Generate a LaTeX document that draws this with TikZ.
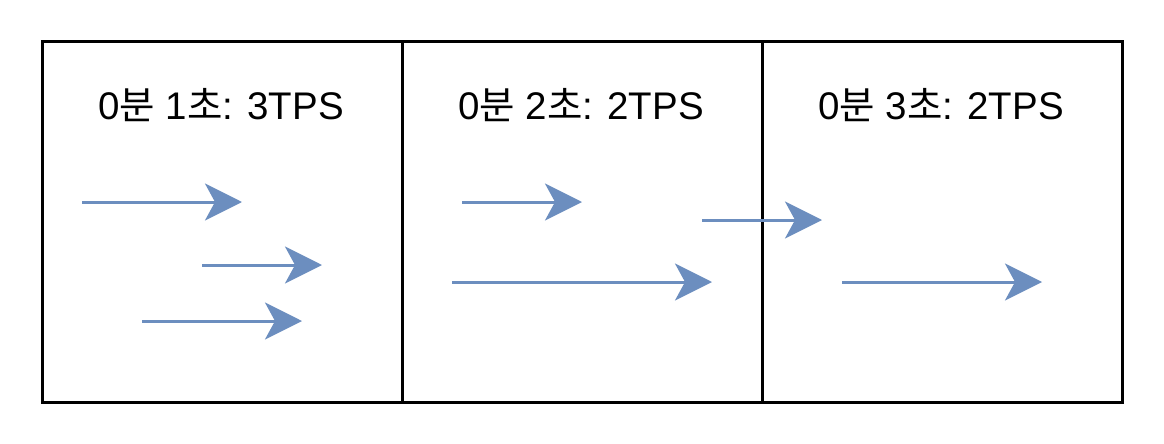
\documentclass[tikz,border=0pt]{standalone}
\usepackage{fontspec}
\setmainfont{Liberation Sans}
\newfontfamily\kr{Noto Sans CJK KR}
\usetikzlibrary{arrows.meta}
\definecolor{arrowblue}{HTML}{6C8EBF}
\tikzset{
  panel/.style={draw=black, line width=3pt, minimum width=360pt, minimum height=360pt, inner sep=0pt, outer sep=0pt},
  title/.style={font=\fontsize{38.5}{42}\selectfont, inner sep=0pt, anchor=base},
  flow/.style={draw=arrowblue, line width=3pt, -{Stealth[length=37pt, width=37pt, inset=10pt]}},
}
\begin{document}
\begin{tikzpicture}[x=1pt,y=-1pt]
\useasboundingbox (0,0) rectangle (1164,444);
\node[panel] (p1) at (222,222) {};
\node[panel] (p2) at (582,222) {};
\node[panel] (p3) at (942,222) {};
\node[title] (t1) at (221,119) {0{\kr 분} 1{\kr 초}: 3TPS};
\node[title] (t2) at (581,119) {0{\kr 분} 2{\kr 초}: 2TPS};
\node[title] (t3) at (941,119) {0{\kr 분} 3{\kr 초}: 2TPS};
\coordinate (a1s) at (82,202); \coordinate (a1e) at (242,202);
\coordinate (a2s) at (202,265); \coordinate (a2e) at (322,265);
\coordinate (a3s) at (142,321); \coordinate (a3e) at (302,321);
\coordinate (a4s) at (462,202); \coordinate (a4e) at (582,202);
\coordinate (a5s) at (452,282); \coordinate (a5e) at (712,282);
\coordinate (a6s) at (702,220); \coordinate (a6e) at (822,220);
\coordinate (a7s) at (842,282); \coordinate (a7e) at (1042,282);
\draw[flow] (a1s) -- (a1e);
\draw[flow] (a2s) -- (a2e);
\draw[flow] (a3s) -- (a3e);
\draw[flow] (a4s) -- (a4e);
\draw[flow] (a5s) -- (a5e);
\draw[flow] (a6s) -- (a6e);
\draw[flow] (a7s) -- (a7e);
\end{tikzpicture}
\end{document}
